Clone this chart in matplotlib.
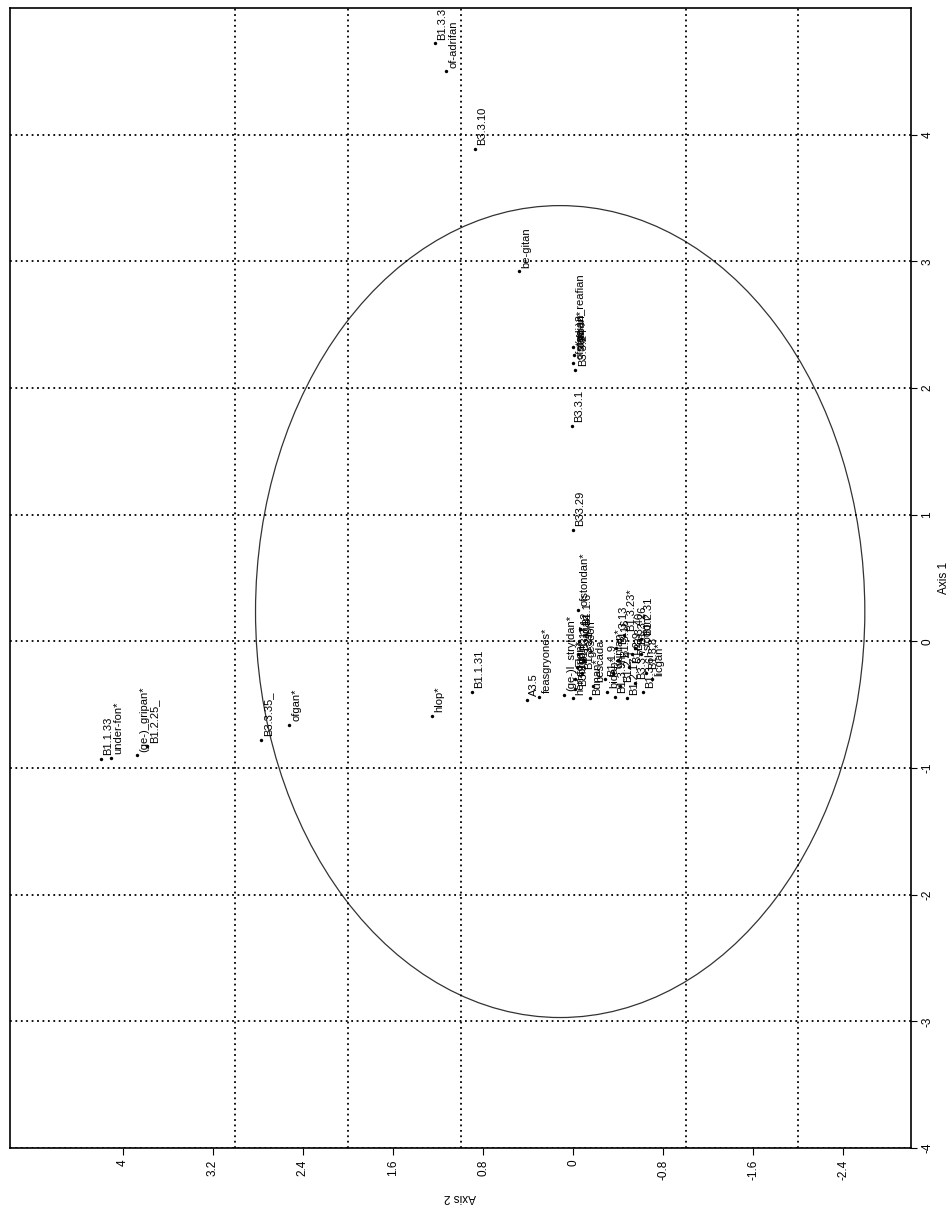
import matplotlib.pyplot as plt
import numpy as np
from matplotlib.patches import Ellipse

plt.rcParams["font.family"] = ["Liberation Sans", "DejaVu Sans"]

# point labels and coordinates (axis 1 = vertical, axis 2 = horizontal, reversed)
labels = [
    "B1.3.3", "of-adrifan", "B3.3.10", "be-gitan",
    "(ge-)2_reafian", "stafnan*", "ofstadian", "B3.3.24", "B3.3.1",
    "B33.29", "B1.1.31", "hlop*", "ofgan*", "B3.3.35_",
    "(ge-)_gripan*", "B1.2.25_", "B1.1.33", "under-fon*",
    "A3.5", "feasgryones*", "(ge-)l_stryldan*", "hen-forlan*",
    "fordon*", "B1.1.17", "B3.3.12", "agan", "B1.1.6", "ofstondan*",
    "B3.3.4", "B1.3.21", "geseon*", "bescada", "Bunan*",
    "B1.3.23*", "B1.3.26", "stodon*", "B1.2.9", "B1.3.16", "wunian*",
    "B1.3.8", "B1.2.4", "B1.3.6h", "bidan*", "B1.2.17", "B3.3.7",
    "licgan*", "B1.3.13", "B1.1.9", "B3.3.40", "B1.2.31", "B1.3.9h",
]
axis1 = [
    4.72, 4.50, 3.89, 2.92,
    2.32, 2.26, 2.20, 2.14, 1.70,
    0.88, -0.40, -0.59, -0.66, -0.78,
    -0.90, -0.83, -0.93, -0.92,
    -0.46, -0.44, -0.42, -0.45,
    -0.30, -0.20, -0.10, 0.00, 0.10, 0.25,
    -0.38, -0.25, -0.15, -0.35, -0.45,
    0.05, -0.05, -0.10, -0.20, -0.15, -0.25,
    -0.25, -0.35, -0.40, -0.40, -0.45, -0.33,
    -0.30, -0.05, -0.30, -0.10, 0.02, -0.44,
]
axis2 = [
    1.23, 1.13, 0.87, 0.48,
    0.00, -0.01, 0.00, -0.02, 0.01,
    0.00, 0.90, 1.25, 2.52, 2.77,
    3.87, 3.78, 4.19, 4.10,
    0.41, 0.30, 0.08, 0.00,
    -0.02, -0.03, -0.04, -0.05, -0.06, -0.04,
    -0.02, -0.08, -0.10, -0.18, -0.15,
    -0.45, -0.55, -0.60, -0.50, -0.40, -0.35,
    -0.65, -0.42, -0.62, -0.30, -0.48, -0.55,
    -0.70, -0.38, -0.28, -0.52, -0.60, -0.37,
]

ax2_ticks = [-2.4, -1.6, -0.8, 0, 0.8, 1.6, 2.4, 3.2, 4]
ax2_ticklabels = ["-2.4", "-1.6", "-0.8", "0", "0.8", "1.6", "2.4", "3.2", "4"]
ax1_ticks = [-4, -3, -2, -1, 0, 1, 2, 3, 4]

fig = plt.figure(figsize=(9.53, 12.14), dpi=100)
ax = fig.add_axes([10 / 953, 1 - 1148 / 1214, 901 / 953, 1140 / 1214])

ax.scatter(axis2, axis1, s=6, c="black", zorder=3, linewidths=0)
for lab, a1, a2 in zip(labels, axis1, axis2):
    ax.text(a2 - 0.02, a1 + 0.03, lab, rotation=90, rotation_mode="anchor",
            ha="left", va="top", fontsize=8, color="black")

ax.add_patch(Ellipse((0.115, 0.235), width=5.41, height=6.41, fill=False,
                     edgecolor="#333333", linewidth=0.9))

ax.set_xlim(5, -3)
ax.set_ylim(-4, 5)

ax.set_xticks(ax2_ticks)
ax.set_xticklabels(ax2_ticklabels, rotation=90)
ax.set_xticks(np.arange(-2, 5), minor=True)
ax.tick_params(axis="x", which="minor", length=0)
ax.tick_params(axis="x", which="major", length=5, labelsize=8.5)
ax.xaxis.grid(True, which="minor", linestyle=(0, (1, 2)), color="black", linewidth=1.3)

ax.yaxis.tick_right()
ax.yaxis.set_label_position("right")
ax.set_yticks(ax1_ticks)
ax.set_yticklabels([str(t) for t in ax1_ticks], rotation=90, va="center")
ax.tick_params(axis="y", length=4, labelsize=8.5)
ax.yaxis.grid(True, which="major", linestyle=(0, (1, 2)), color="black", linewidth=1.3)

for s in ax.spines.values():
    s.set_linewidth(1.2)

ax.set_xlabel("Axis 2", rotation=180, fontsize=8.5, labelpad=8)
ax.set_ylabel("Axis 1", rotation=90, fontsize=8.5, labelpad=3)

fig.savefig("out.png", dpi=100)
